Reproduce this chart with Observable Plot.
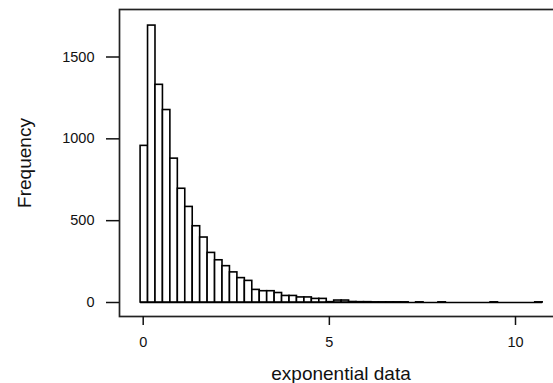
<!DOCTYPE html>
<html>
<head>
<meta charset="utf-8">
<script src="https://cdn.jsdelivr.net/npm/d3@7"></script>
<script src="https://cdn.jsdelivr.net/npm/@observablehq/plot@0.6"></script>
<style>
  html, body { margin: 0; padding: 0; background: #fff; overflow: hidden; }
  #chart g[aria-label="y-axis tick label"], #chart g[aria-label="x-axis tick label"] { font-size: 14.5px; }
</style>
</head>
<body>
<div id="chart"></div>
<script>
// Histogram counts (bins of width 0.2)
const counts = [957, 1692, 1330, 1176, 879, 695, 584, 466, 397, 303,
                258, 222, 184, 149, 132, 77, 69, 69, 58, 40,
                40, 31, 31, 22, 22, 2, 12, 12,
                3, 2, 2, 1, 1, 1, 1, 1, 0, 1,
                0, 0, 1, 0, 0, 0, 0, 0, 0, 1,
                0, 0, 0, 0, 0, 1];
const binStart = -0.07;
const binWidth = 0.2;
const xTicks = [0, 5, 10];
const yTicks = [0, 500, 1000, 1500];
const xLabel = "exponential data";
const yLabel = "Frequency";

const bins = counts.map((c, i) => ({
  x1: binStart + i * binWidth,
  x2: binStart + (i + 1) * binWidth,
  count: c
}));

const chart = Plot.plot({
  width: 553,
  height: 383,
  marginLeft: 119,
  marginTop: 9,
  marginBottom: 67,
  marginRight: -6,
  style: {fontFamily: "'Liberation Sans', Arial, sans-serif", fontSize: "14.5px", color: "#111", background: "#fff"},
  x: {domain: [0, 10], range: [142.7, 515], axis: null},
  y: {domain: [0, 1500], range: [302, 56.5], axis: null},
  marks: [
    Plot.ruleY([0], {x1: bins[0].x1, x2: bins[bins.length - 1].x2, stroke: "#000", strokeWidth: 1.6}),
    Plot.rectY(bins.filter(d => d.count > 0), {x1: "x1", x2: "x2", y1: 0, y2: "count", fill: "#fff", stroke: "#000", strokeWidth: 1.6}),
    Plot.frame({stroke: "#222", strokeWidth: 1.7}),
    Plot.axisY({ticks: yTicks, tickSize: 13, tickPadding: 12, tickFormat: d => String(d), label: null, fontSize: 14.5, strokeWidth: 1.5}),
    Plot.axisX({ticks: xTicks, tickSize: 9, tickPadding: 11.5, tickFormat: d => String(d), label: null, fontSize: 14.5, strokeWidth: 1.5}),
    Plot.text([xLabel], {frameAnchor: "bottom", dx: 1.5, dy: 57, lineAnchor: "middle", fontSize: 19, fill: "#111"}),
    Plot.text([yLabel], {frameAnchor: "left", textAnchor: "middle", rotate: -90, dx: -94.5, dy: 0, lineAnchor: "middle", fontSize: 19, letterSpacing: 2, fill: "#111"})
  ]
});
document.getElementById("chart").appendChild(chart);
</script>
</body>
</html>
